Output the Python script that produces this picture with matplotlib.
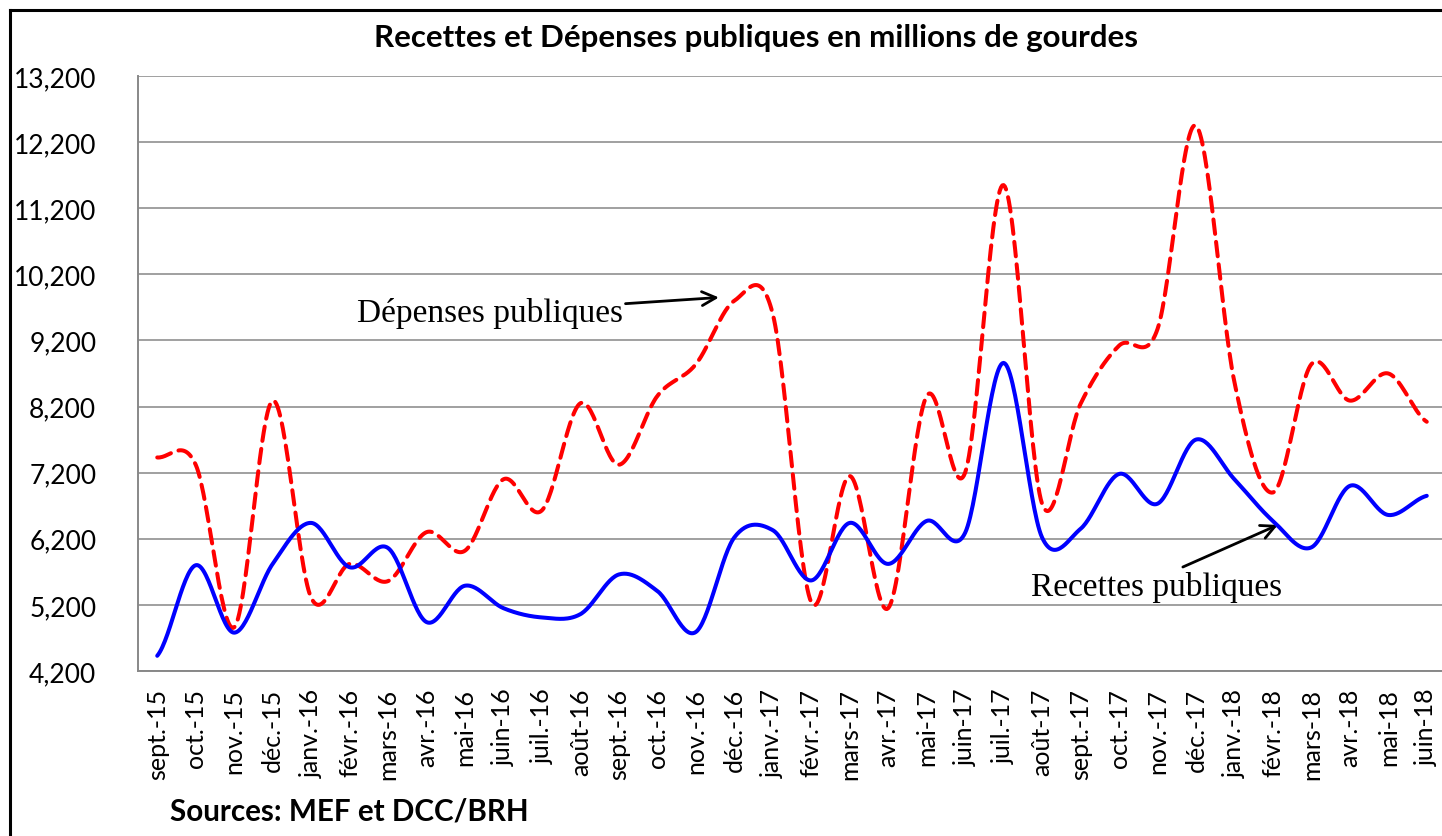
import matplotlib
matplotlib.use("Agg")
import matplotlib.pyplot as plt
from matplotlib.lines import Line2D
from matplotlib.ticker import FuncFormatter
import numpy as np

months = ["sept.-15", "oct.-15", "nov.-15", "déc.-15", "janv.-16", "févr.-16",
          "mars-16", "avr.-16", "mai-16", "juin-16", "juil.-16", "août-16",
          "sept.-16", "oct.-16", "nov.-16", "déc.-16", "janv.-17", "févr.-17",
          "mars-17", "avr.-17", "mai-17", "juin-17", "juil.-17", "août-17",
          "sept.-17", "oct.-17", "nov.-17", "déc.-17", "janv.-18", "févr.-18",
          "mars-18", "avr.-18", "mai-18", "juin-18"]

recettes = [4430, 5800, 4780, 5820, 6440, 5770, 6060, 4940, 5490, 5150,
            5010, 5060, 5660, 5410, 4790, 6220, 6330, 5570, 6440, 5820,
            6470, 6290, 8860, 6220, 6350, 7180, 6730, 7700, 7100, 6470,
            6070, 7000, 6560, 6850]

depenses = [7430, 7320, 4860, 8290, 5310, 5820, 5560, 6300, 6020, 7100,
            6630, 8250, 7320, 8360, 8840, 9800, 9600, 5240, 7150, 5150,
            8360, 7200, 11550, 6730, 8240, 9120, 9370, 12450, 8570, 6900,
            8840, 8290, 8700, 7970]

y_ticks = list(range(4200, 13201, 1000))


def smooth(y, n=30):
    # Catmull-Rom, close to Excel's "smoothed line"
    y = np.asarray(y, dtype=float)
    p = np.concatenate([[y[0]], y, [y[-1]]])
    xs, ys = [], []
    t = np.linspace(0, 1, n, endpoint=False)
    for i in range(1, len(p) - 2):
        p0, p1, p2, p3 = p[i - 1], p[i], p[i + 1], p[i + 2]
        seg = 0.5 * ((2 * p1) + (-p0 + p2) * t +
                     (2 * p0 - 5 * p1 + 4 * p2 - p3) * t ** 2 +
                     (-p0 + 3 * p1 - 3 * p2 + p3) * t ** 3)
        xs.append(i - 1 + t)
        ys.append(seg)
    xs.append([len(y) - 1])
    ys.append([y[-1]])
    return np.concatenate(xs), np.concatenate(ys)


W, H = 1442, 837
fig = plt.figure(figsize=(W / 100, H / 100), dpi=100)
ax = fig.add_axes([138 / W, 1 - 672 / H, (1446 - 138) / W, 595 / H])

x = np.arange(len(months))
xs, ys = smooth(depenses)
ax.plot(xs, ys, color="#ff0000", lw=2.9, dashes=(3.6, 2.0),
        dash_capstyle="round", zorder=3)
xs, ys = smooth(recettes)
ax.plot(xs, ys, color="#0000ff", lw=2.9, solid_capstyle="round", zorder=4)

ax.set_xlim(-0.5, len(months) - 0.5)
ax.set_ylim(4200, 13200)
ax.set_yticks(y_ticks)
ax.yaxis.set_major_formatter(FuncFormatter(lambda v, p: f"{int(v):,}"))
ax.set_xticks(x)
ax.set_xticklabels(months, rotation=90, fontsize=18, family="Lato")
for lbl in ax.get_yticklabels():
    lbl.set_family("Lato")
    lbl.set_fontsize(19)
ax.tick_params(axis="y", length=0, pad=30)
ax.tick_params(axis="x", length=0, pad=12)

ax.grid(axis="y", color="#a0a0a0", lw=1.4)
ax.set_axisbelow(True)
for s in ["top", "right"]:
    ax.spines[s].set_visible(False)
for s in ["left", "bottom"]:
    ax.spines[s].set_color("#888888")
    ax.spines[s].set_linewidth(1.4)

# annotations
ax.annotate("Dépenses publiques", xy=(14.6, 9850), xytext=(12.1, 9620),
            fontsize=24, family="Liberation Serif", ha="right", va="center",
            arrowprops=dict(arrowstyle="->", color="black", lw=2,
                            mutation_scale=25, shrinkA=0, shrinkB=0))
ax.annotate("", xy=(29.13, 6409), xytext=(26.66, 5773),
            arrowprops=dict(arrowstyle="->", color="black", lw=2,
                            mutation_scale=25, shrinkA=0, shrinkB=0))
ax.text(22.7, 5480, "Recettes publiques", fontsize=24, family="Liberation Serif",
        ha="left", va="center")

fig.text(756 / W, 1 - 38 / H, "Recettes et Dépenses publiques en millions de gourdes",
         ha="center", va="center", fontsize=22.5, fontweight="bold", family="Lato")
fig.text(170 / W, 1 - 812 / H, "Sources: MEF et DCC/BRH", ha="left", va="center",
         fontsize=21.3, fontweight="bold", family="Lato")

# outer frame
fig.add_artist(Line2D([10 / W, 10 / W], [0, 1 - 11 / H], color="black", lw=2.2,
                      transform=fig.transFigure))
fig.add_artist(Line2D([10 / W, 1], [1 - 11 / H, 1 - 11 / H], color="black", lw=2.2,
                      transform=fig.transFigure))

fig.savefig("out.png", dpi=100)
